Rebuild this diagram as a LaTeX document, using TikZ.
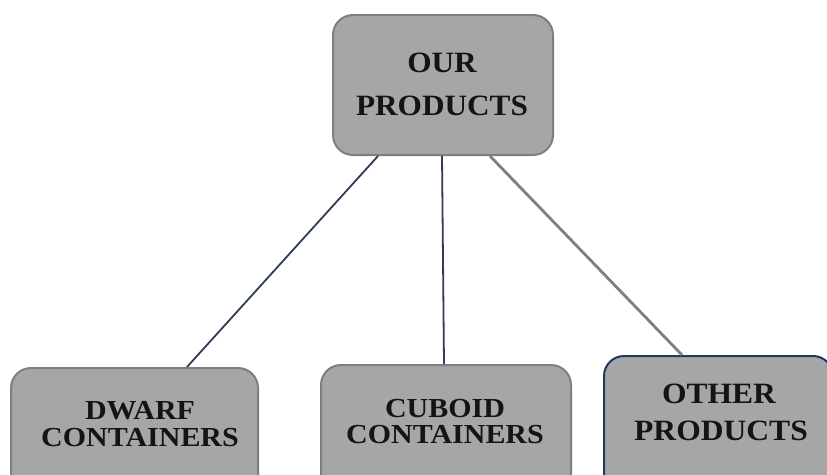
\documentclass[tikz,border=0pt]{standalone}
\usepackage{fontspec}
\setmainfont{Liberation Serif}
\definecolor{boxfill}{HTML}{A6A6A6}
\definecolor{boxline}{HTML}{7F7F7F}
\definecolor{navy}{HTML}{2F3D5A}
\definecolor{navyedge}{HTML}{1F3864}
\newcommand{\wide}[2]{\scalebox{#1}[1]{#2}}
\begin{document}
\begin{tikzpicture}[x=1pt,y=-1pt,
  prodbox/.style={draw=boxline, fill=boxfill, line width=2pt, rounded corners=20pt},
  lbl/.style={anchor=base, inner sep=0pt, font=\bfseries\fontsize{29.5}{29.5}\selectfont, text=black!92},
  lbls/.style={anchor=base, inner sep=0pt, font=\bfseries\fontsize{27.5}{27.5}\selectfont, text=black!92},
  navyline/.style={draw=navy, line width=1.8pt},
  grayline/.style={draw=boxline, line width=2.8pt}]
\clip (0,0) rectangle (827,474);
\fill[white] (0,0) rectangle (827,474);
% boxes
\node[prodbox, anchor=north west, minimum width=220pt, minimum height=140pt, inner sep=0pt] (top) at (332,14) {};
\node[prodbox, anchor=north west, minimum width=247pt, minimum height=150pt, inner sep=0pt] (dwarf) at (10,367) {};
\node[prodbox, anchor=north west, minimum width=250pt, minimum height=150pt, inner sep=0pt] (cuboid) at (320,364) {};
\node[prodbox, draw=navyedge, anchor=north west, minimum width=229pt, minimum height=150pt, inner sep=0pt] (other) at (603,355) {};
% connectors
\draw[navyline] ([xshift=46pt]top.south west) -- ([xshift=177pt]dwarf.north west);
\draw[navyline] ([xshift=110pt]top.south west) -- ([xshift=124pt]cuboid.north west);
\draw[grayline] ([xshift=158pt]top.south west) -- ([xshift=79pt]other.north west);
% texts
\node[lbl] (t1) at (442,72) {\wide{1.06}{OUR}};
\node[lbl] (t2) at (442,115) {\wide{1.06}{PRODUCTS}};
\node[lbls] (d1) at (140,419) {\wide{1.09}{DWARF}};
\node[lbls] (d2) at (140,446) {\wide{1.09}{CONTAINERS}};
\node[lbls] (c1) at (445,417) {\wide{1.09}{CUBOID}};
\node[lbls] (c2) at (445,443) {\wide{1.09}{CONTAINERS}};
\node[lbl] (o1) at (719,403) {\wide{1.07}{OTHER}};
\node[lbl] (o2) at (721,440) {\wide{1.07}{PRODUCTS}};
\end{tikzpicture}
\end{document}
